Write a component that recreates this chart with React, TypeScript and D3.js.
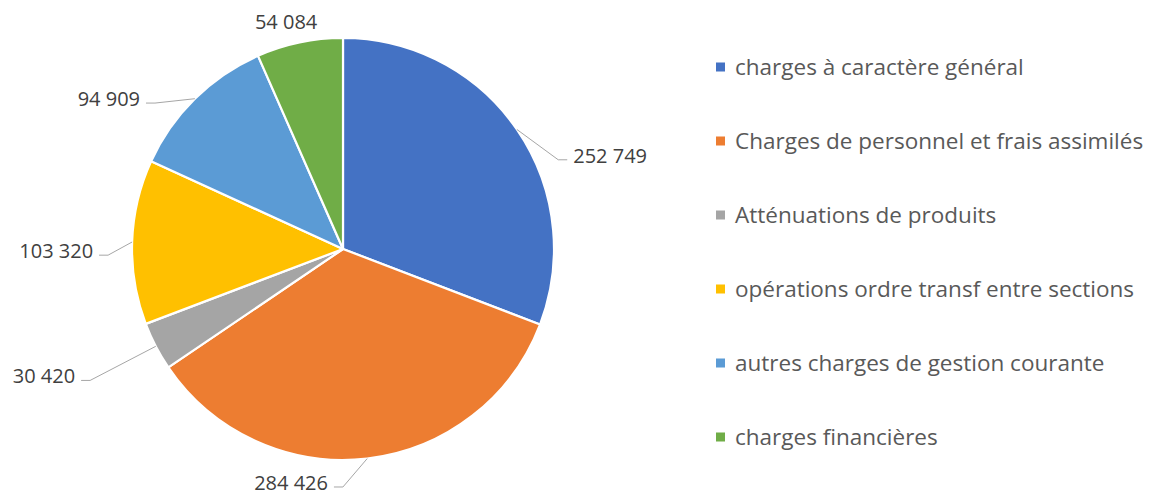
import React from "react";
import * as d3 from "d3";

const categories = [
  "charges à caractère général",
  "Charges de personnel et frais assimilés",
  "Atténuations de produits",
  "opérations ordre transf entre sections",
  "autres charges de gestion courante",
  "charges financières",
];
const values = [252749, 284426, 30420, 103320, 94909, 54084];
const valueLabels = ["252 749", "284 426", "30 420", "103 320", "94 909", "54 084"];
const colors = ["#4472C4", "#ED7D31", "#A5A5A5", "#FFC000", "#5B9BD5", "#70AD47"];

// label layout: angular nudge (deg) from slice mid-angle, radial offset beyond the pie, leader shown
const labelNudgeDeg = [12, 6.6, 0, -3.4, -7.6, -2.2];
const labelRadialOffset = [22, 27, 74, 24, 27, 23];
const labelLeader = [true, true, true, true, true, false];

const W = 1163;
const H = 495;
const cx = 343;
const cy = 249;
const R = 211;

export default function App() {
  const pie = d3
    .pie<number>()
    .sort(null)
    .value((d) => d)
    .startAngle(0)
    .endAngle(2 * Math.PI);
  const arcs = pie(values);
  const arc = d3.arc<d3.PieArcDatum<number>>().innerRadius(0).outerRadius(R);

  const polar = (a: number, r: number) => [r * Math.sin(a), -r * Math.cos(a)];

  const legendY = d3
    .scalePoint<number>()
    .domain(d3.range(categories.length))
    .range([67, 437]);

  return (
    <svg
      width={W}
      height={H}
      style={{ position: "absolute", left: 0, top: 0, background: "#fff" }}
      fontFamily="'Open Sans', sans-serif"
    >
      <g transform={`translate(${cx},${cy})`}>
        {arcs.map((a, i) => (
          <path key={i} d={arc(a) || ""} fill={colors[i]} stroke="#fff" strokeWidth={2.2} strokeLinejoin="round" />
        ))}
        {arcs.map((a, i) => {
          const mid = (a.startAngle + a.endAngle) / 2;
          const la = mid + (labelNudgeDeg[i] * Math.PI) / 180;
          const [ex, ey] = polar(la, R + labelRadialOffset[i]);
          const [sx, sy] = polar(mid, R);
          const right = Math.sin(la) > 0.05;
          if (!labelLeader[i]) {
            return (
              <text key={i} x={ex} y={ey} dy="0.35em" textAnchor="middle" fontSize={20} fill="#404040">
                {valueLabels[i]}
              </text>
            );
          }
          const dir = right ? 1 : -1;
          const hx = ex + dir * 9;
          return (
            <g key={i}>
              <polyline
                points={`${sx},${sy} ${ex},${ey} ${hx},${ey}`}
                fill="none"
                stroke="#A6A6A6"
                strokeWidth={1}
              />
              <text
                x={hx + dir * 6}
                y={ey - 4}
                dy="0.35em"
                textAnchor={right ? "start" : "end"}
                fontSize={20}
                fill="#404040"
              >
                {valueLabels[i]}
              </text>
            </g>
          );
        })}
      </g>
      <g>
        {categories.map((c, i) => {
          const y = legendY(i) as number;
          return (
            <g key={i}>
              <rect x={716} y={y - 4.5} width={9} height={9} fill={colors[i]} />
              <text x={735} y={y} dy="0.35em" fontSize={22.5} fill="#595959">
                {c}
              </text>
            </g>
          );
        })}
      </g>
    </svg>
  );
}
